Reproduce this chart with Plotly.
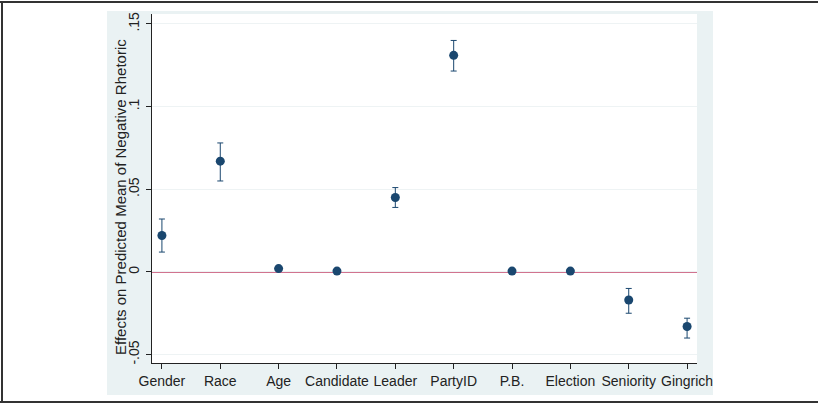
import plotly.graph_objects as go

categories = ["Gender", "Race", "Age", "Candidate", "Leader", "PartyID", "P.B.", "Election", "Seniority", "Gingrich"]
effects = [0.022, 0.067, 0.002, 0.0005, 0.045, 0.131, 0.0005, 0.0005, -0.017, -0.033]
ci_upper = [0.032, 0.078, 0.002, 0.0005, 0.051, 0.140, 0.0005, 0.0005, -0.010, -0.028]
ci_lower = [0.012, 0.055, 0.002, 0.0005, 0.039, 0.1215, 0.0005, 0.0005, -0.025, -0.040]
y_tick_vals = [-0.05, 0, 0.05, 0.1, 0.15]
y_tick_text = ["-.05", "0", ".05", ".1", ".15"]
y_title = "Effects on Predicted Mean of Negative Rhetoric"

xpos = list(range(1, len(categories) + 1))
err_plus = [u - e for u, e in zip(ci_upper, effects)]
err_minus = [e - l for e, l in zip(effects, ci_lower)]

W, H = 818, 405
L, R, T, B = 152, 697, 14, 363


def px(x):
    return (x - L) / (R - L)


def py(y):
    return (B - y) / (B - T)


navy = "#1a476f"
fig = go.Figure()
fig.add_trace(go.Scatter(
    x=xpos, y=effects, mode="markers",
    marker=dict(color=navy, size=9),
    error_y=dict(type="data", symmetric=False, array=err_plus, arrayminus=err_minus,
                 color=navy, thickness=1, width=3),
    showlegend=False, cliponaxis=False,
))

shapes = [
    # graph region background
    dict(type="rect", xref="paper", yref="paper", x0=px(107), x1=px(713), y0=py(395), y1=py(11),
         fillcolor="#eaf2f3", line=dict(width=0), layer="below"),
    dict(type="rect", xref="paper", yref="paper", x0=0, x1=1, y0=0, y1=1,
         fillcolor="white", line=dict(width=0), layer="below"),
    # zero reference line
    dict(type="line", xref="paper", yref="y", x0=0, x1=1, y0=0, y1=0,
         line=dict(color="#c2456a", width=1.5), layer="below"),
    # outer frame
    dict(type="line", xref="paper", yref="paper", x0=px(0), x1=px(818), y0=py(2), y1=py(2),
         line=dict(color="#333333", width=2)),
    dict(type="line", xref="paper", yref="paper", x0=px(0), x1=px(818), y0=py(402), y1=py(402),
         line=dict(color="#333333", width=2)),
    dict(type="line", xref="paper", yref="paper", x0=px(2), x1=px(2), y0=py(2), y1=py(402),
         line=dict(color="#333333", width=2)),
]

fig.update_layout(
    width=W, height=H,
    margin=dict(l=L, r=W - R, t=T, b=H - B, pad=0),
    paper_bgcolor="white", plot_bgcolor="white",
    font=dict(family="Liberation Sans, Arial, sans-serif", size=14, color="#222222"),
    shapes=shapes,
    annotations=[dict(text=y_title, textangle=-90, xref="paper", yref="paper",
                      x=px(120), y=py(197), xanchor="center", yanchor="middle",
                      showarrow=False, font=dict(size=15))],
    xaxis=dict(
        range=[0.83, 10.17], tickvals=xpos, ticktext=categories,
        showgrid=False, zeroline=False, showline=True, linecolor="#222222", linewidth=1,
        ticks="outside", ticklen=5, tickcolor="#222222", tickfont=dict(size=14),
    ),
    yaxis=dict(
        range=[-0.0551, 0.156], tickvals=y_tick_vals, ticktext=y_tick_text, tickangle=-90,
        showgrid=True, gridcolor="#eef3f4", gridwidth=1, zeroline=False,
        showline=True, linecolor="#222222", linewidth=1,
        ticks="outside", ticklen=5, tickcolor="#222222", tickfont=dict(size=14),
        ticklabelstandoff=1,
    ),
)

fig.write_html("out.html", config={"displayModeBar": False},
               post_script="document.body.style.margin='0';document.body.style.padding='0';")
